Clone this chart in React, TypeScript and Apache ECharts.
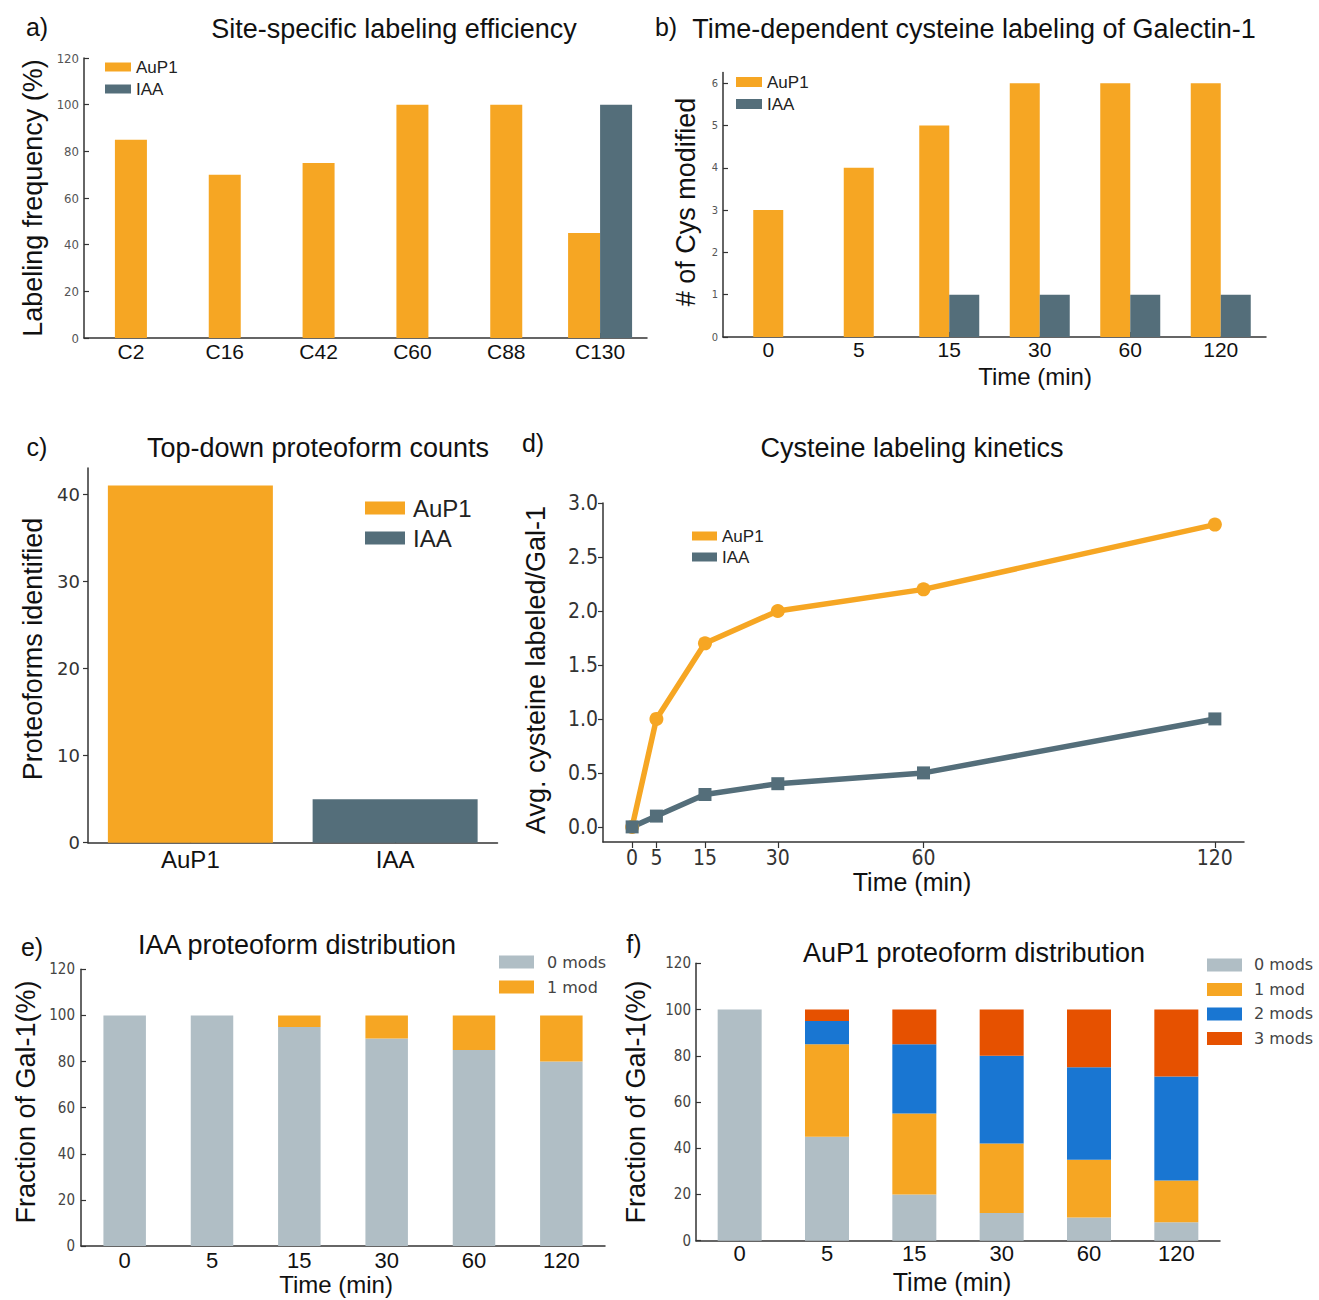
import React, { useEffect, useRef } from 'react';
import * as echarts from 'echarts';

// ---------- data ----------
const siteCats = ['C2', 'C16', 'C42', 'C60', 'C88', 'C130'];
const siteAuP1 = [85, 70, 75, 100, 100, 45];
const siteIAA = [0, 0, 0, 0, 0, 100];
const siteTicks = [0, 20, 40, 60, 80, 100, 120];

const timeCats = ['0', '5', '15', '30', '60', '120'];
const cysAuP1 = [3, 4, 5, 6, 6, 6];
const cysIAA = [0, 0, 1, 1, 1, 1];
const cysTicks = [0, 1, 2, 3, 4, 5, 6];

const protoCats = ['AuP1', 'IAA'];
const protoCounts = [41, 5];
const protoTicks = [0, 10, 20, 30, 40];

const kinTimes = [0, 5, 15, 30, 60, 120];
const kinAuP1 = [0, 1.0, 1.7, 2.0, 2.2, 2.8];
const kinIAA = [0, 0.1, 0.3, 0.4, 0.5, 1.0];
const kinTicks = [0, 0.5, 1.0, 1.5, 2.0, 2.5, 3.0];

const iaa0mods = [100, 100, 95, 90, 85, 80];
const iaa1mod = [0, 0, 5, 10, 15, 20];

const aup0mods = [100, 45, 20, 12, 10, 8];
const aup1mod = [0, 40, 35, 30, 25, 18];
const aup2mods = [0, 10, 30, 38, 40, 45];
const aup3mods = [0, 5, 15, 20, 25, 29];
const fracTicks = [0, 20, 40, 60, 80, 100, 120];

// ---------- styles ----------
const ORANGE = '#F6A623';
const SLATE = '#546E7A';
const GRAY = '#B0BEC5';
const BLUE = '#1976D2';
const RED = '#E65100';
const FONT = '"Liberation Sans", Arial, Helvetica, sans-serif';
const COND = '"DejaVu Sans Condensed", "DejaVu Sans", sans-serif';
const DJV = '"DejaVu Sans", sans-serif';

const spine = { show: true, onZero: false, lineStyle: { color: '#333', width: 1.5 } };

function txt(text: string, x: number, y: number, size: number, rot = 0, color = '#111') {
  return {
    type: 'text',
    x,
    y,
    rotation: rot,
    style: {
      text,
      fontSize: size,
      fontFamily: FONT,
      fill: color,
      align: 'center',
      verticalAlign: 'middle',
      textAlign: 'center',
      textVerticalAlign: 'middle',
    },
  };
}

function buildOption() {
  const single = (vals: number[], other: number[]) => vals.map((v, i) => (other[i] > 0 ? '-' : v));
  const paired = (vals: number[], other: number[]) => vals.map((v, i) => (other[i] > 0 ? v : '-'));

  const catAxis = (gridIndex: number, data: string[], size: number, margin: number, tickInside: boolean) => ({
    type: 'category',
    gridIndex,
    data,
    axisLine: spine,
    axisTick: { show: true, inside: tickInside, alignWithLabel: true, length: 5, lineStyle: { color: '#333', width: 1.2 } },
    axisLabel: { interval: 0, fontSize: size, fontFamily: FONT, color: '#111', margin },
    splitLine: { show: false },
  });
  const hiddenCat = (gridIndex: number, data: string[]) => ({ type: 'category', gridIndex, data, show: false });

  const valAxis = (
    gridIndex: number,
    min: number,
    max: number,
    ticks: number[],
    size: number,
    font: string,
    color: string,
    margin: number,
    tickInside: boolean,
    fmt?: (v: number) => string
  ) => ({
    type: 'value',
    gridIndex,
    min,
    max,
    axisLine: spine,
    axisTick: { show: true, inside: tickInside, length: 5, customValues: ticks, lineStyle: { color: '#333', width: 1.2 } },
    axisLabel: {
      fontSize: size,
      fontFamily: font,
      color,
      margin,
      customValues: ticks,
      formatter: fmt ? fmt : (v: number) => String(v),
    },
    splitLine: { show: false },
  });

  const legend = (
    data: string[],
    left: number,
    top: number,
    w: number,
    h: number,
    size: number,
    lh: number,
    font: string,
    color: string,
    padLeft = 0
  ) => ({
    data,
    orient: 'vertical',
    left,
    top,
    itemWidth: w,
    itemHeight: h,
    itemGap: 0,
    padding: 0,
    icon: 'rect',
    selectedMode: false,
    textStyle: { fontSize: size, lineHeight: lh, fontFamily: font, color, padding: [0, 0, 0, padLeft] },
  });

  return {
    animation: false,
    backgroundColor: '#ffffff',
    grid: [
      { left: 84, top: 58, width: 563, height: 280, outerBoundsMode: 'none' },
      { left: 723, top: 72.6, width: 543, height: 264.4, outerBoundsMode: 'none' },
      { left: 88, top: 468, width: 409.5, height: 374.7, outerBoundsMode: 'none' },
      { left: 603, top: 503, width: 641, height: 339, outerBoundsMode: 'none' },
      { left: 81, top: 969.3, width: 524, height: 276.7, outerBoundsMode: 'none' },
      { left: 696, top: 963.3, width: 524, height: 277.4, outerBoundsMode: 'none' },
    ],
    xAxis: [
      catAxis(0, siteCats, 21, 3, true),
      hiddenCat(0, siteCats),
      catAxis(1, timeCats, 21, 2, true),
      hiddenCat(1, timeCats),
      catAxis(2, protoCats, 24, 5, true),
      {
        type: 'value',
        gridIndex: 3,
        min: -6,
        max: 126,
        axisLine: spine,
        axisTick: { show: true, inside: false, length: 6, customValues: kinTimes, lineStyle: { color: '#333', width: 1.2 } },
        axisLabel: { fontSize: 21, fontFamily: COND, color: '#333', margin: 5, customValues: kinTimes },
        splitLine: { show: false },
      },
      catAxis(4, timeCats, 22, 3, true),
      catAxis(5, timeCats, 22, 2, true),
    ],
    yAxis: [
      valAxis(0, 0, 120, siteTicks, 13, COND, '#555', 5, true),
      valAxis(1, 0, 6.25, cysTicks, 11, COND, '#555', 5, true),
      valAxis(2, 0, 43, protoTicks, 18, DJV, '#333', 8, false),
      valAxis(3, -0.14, 3.0, kinTicks, 21, COND, '#333', 5, false, (v: number) => v.toFixed(1)),
      valAxis(4, 0, 120, fracTicks, 15, COND, '#444', 6, true),
      valAxis(5, 0, 120, fracTicks, 15, COND, '#444', 5, true),
    ],
    legend: [
      legend(['AuP1', 'IAA'], 105, 56, 26, 9, 17, 22, FONT, '#222'),
      legend(['AuP1', 'IAA'], 736, 71, 26, 10, 17, 22, FONT, '#222'),
      legend(['AuP1', 'IAA'], 365, 493, 40, 13, 24, 30, FONT, '#222', 3),
      legend(['AuP1', 'IAA'], 692, 525.5, 25, 9, 17, 21, FONT, '#222'),
      legend(['0 mods', '1 mod'], 499, 949.5, 35, 13, 16, 25, DJV, '#444', 8),
      legend(['0 mods', '1 mod', '2 mods', '3 mods'], 1207, 952.7, 35, 13, 16, 24.5, DJV, '#444', 7),
    ],
    series: [
      // panel a
      { name: 'AuP1', type: 'bar', xAxisIndex: 0, yAxisIndex: 0, barWidth: 32, data: single(siteAuP1, siteIAA), itemStyle: { color: ORANGE } },
      { name: 'AuP1', type: 'bar', xAxisIndex: 1, yAxisIndex: 0, barWidth: 32, barGap: '0%', data: paired(siteAuP1, siteIAA), itemStyle: { color: ORANGE } },
      { name: 'IAA', type: 'bar', xAxisIndex: 1, yAxisIndex: 0, barWidth: 32, barGap: '0%', data: paired(siteIAA, siteIAA), itemStyle: { color: SLATE } },
      // panel b
      { name: 'AuP1', type: 'bar', xAxisIndex: 2, yAxisIndex: 1, barWidth: 30, data: single(cysAuP1, cysIAA), itemStyle: { color: ORANGE } },
      { name: 'AuP1', type: 'bar', xAxisIndex: 3, yAxisIndex: 1, barWidth: 30, barGap: '0%', data: paired(cysAuP1, cysIAA), itemStyle: { color: ORANGE } },
      { name: 'IAA', type: 'bar', xAxisIndex: 3, yAxisIndex: 1, barWidth: 30, barGap: '0%', data: paired(cysIAA, cysIAA), itemStyle: { color: SLATE } },
      // panel c
      { name: 'AuP1', type: 'bar', xAxisIndex: 4, yAxisIndex: 2, barWidth: 165, barGap: '-100%', data: protoCounts.map((v, i) => (i === 0 ? v : '-')), itemStyle: { color: ORANGE } },
      { name: 'IAA', type: 'bar', xAxisIndex: 4, yAxisIndex: 2, barWidth: 165, barGap: '-100%', data: protoCounts.map((v, i) => (i === 1 ? v : '-')), itemStyle: { color: SLATE } },
      // panel d
      {
        name: 'AuP1', type: 'line', xAxisIndex: 5, yAxisIndex: 3,
        data: kinTimes.map((t, i) => [t, kinAuP1[i]]),
        symbol: 'circle', symbolSize: 14,
        lineStyle: { color: ORANGE, width: 5.5 }, itemStyle: { color: ORANGE },
      },
      {
        name: 'IAA', type: 'line', xAxisIndex: 5, yAxisIndex: 3,
        data: kinTimes.map((t, i) => [t, kinIAA[i]]),
        symbol: 'rect', symbolSize: 13,
        lineStyle: { color: SLATE, width: 5.5 }, itemStyle: { color: SLATE },
      },
      // panel e
      { name: '0 mods', type: 'bar', stack: 'e', xAxisIndex: 6, yAxisIndex: 4, barWidth: 42.5, data: iaa0mods, itemStyle: { color: GRAY } },
      { name: '1 mod', type: 'bar', stack: 'e', xAxisIndex: 6, yAxisIndex: 4, barWidth: 42.5, data: iaa1mod, itemStyle: { color: ORANGE } },
      // panel f
      { name: '0 mods', type: 'bar', stack: 'f', xAxisIndex: 7, yAxisIndex: 5, barWidth: 44, data: aup0mods, itemStyle: { color: GRAY } },
      { name: '1 mod', type: 'bar', stack: 'f', xAxisIndex: 7, yAxisIndex: 5, barWidth: 44, data: aup1mod, itemStyle: { color: ORANGE } },
      { name: '2 mods', type: 'bar', stack: 'f', xAxisIndex: 7, yAxisIndex: 5, barWidth: 44, data: aup2mods, itemStyle: { color: BLUE } },
      { name: '3 mods', type: 'bar', stack: 'f', xAxisIndex: 7, yAxisIndex: 5, barWidth: 44, data: aup3mods, itemStyle: { color: RED } },
    ],
    graphic: [
      // panel letters
      txt('a)', 37, 27, 25),
      txt('b)', 666, 27, 25),
      txt('c)', 37, 447, 25),
      txt('d)', 533, 443, 25),
      txt('e)', 32, 947, 25),
      txt('f)', 634, 944, 25),
      // titles
      txt('Site-specific labeling efficiency', 394, 29, 27),
      txt('Time-dependent cysteine labeling of Galectin-1', 974, 29, 27),
      txt('Top-down proteoform counts', 318, 448, 27),
      txt('Cysteine labeling kinetics', 912, 448, 27),
      txt('IAA proteoform distribution', 297, 945, 27),
      txt('AuP1 proteoform distribution', 974, 953, 27),
      // y axis titles
      txt('Labeling frequency (%)', 33, 198, 27, Math.PI / 2),
      txt('# of Cys modified', 686, 202, 27, Math.PI / 2),
      txt('Proteoforms identified', 33, 649, 27, Math.PI / 2),
      txt('Avg. cysteine labeled/Gal-1', 536, 670, 27, Math.PI / 2),
      txt('Fraction of Gal-1(%)', 26, 1102, 27, Math.PI / 2),
      txt('Fraction of Gal-1(%)', 636, 1102, 27, Math.PI / 2),
      // x axis titles
      txt('Time (min)', 1035, 376, 24),
      txt('Time (min)', 912, 882, 25),
      txt('Time (min)', 336, 1284, 24),
      txt('Time (min)', 952, 1282, 25),
    ],
  };
}

export default function App() {
  const ref = useRef<HTMLDivElement>(null);
  useEffect(() => {
    if (!ref.current) return;
    const chart = echarts.init(ref.current, null, { renderer: 'svg' });
    chart.setOption(buildOption() as any);
    return () => {
      chart.dispose();
    };
  }, []);
  return (
    <div
      ref={ref}
      style={{ position: 'absolute', left: 0, top: 0, width: 1319, height: 1300, background: '#fff' }}
    />
  );
}
